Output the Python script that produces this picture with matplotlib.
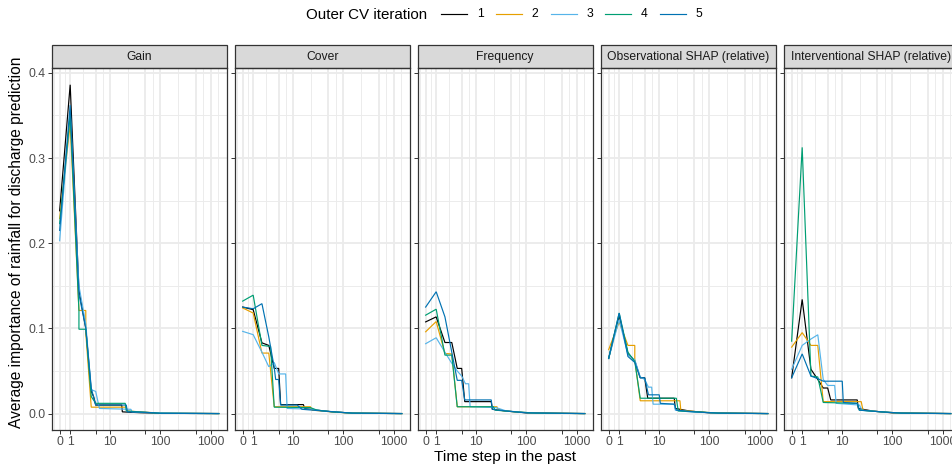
"""Average rainfall importance by time lag, per feature-importance method and outer CV iteration."""

import matplotlib

matplotlib.use("Agg")
import matplotlib.pyplot as plt
import numpy as np
from matplotlib.lines import Line2D
from matplotlib.patches import Rectangle
from matplotlib.ticker import FixedLocator


PANELS = ["Gain", "Cover", "Frequency", "Observational SHAP (relative)",
          "Interventional SHAP (relative)"]
ITERATIONS = ["1", "2", "3", "4", "5"]
COLORS = ["#000000", "#E69F00", "#56B4E9", "#009E73", "#0072B2"]

X_BREAKS = [0, 1, 5, 10, 50, 100, 500, 1000]
X_LABELS = ["0", "1", "", "10", "", "100", "", "1000"]
Y_BREAKS = [0.0, 0.1, 0.2, 0.3, 0.4]

# line vertices (lag, importance) per outer CV iteration 1..5
GAIN_LAGS = [
    [0, 1, 2, 3, 4, 4.5, 5, 17, 17.5, 40, 100, 1440],
    [0, 1, 2, 3, 3, 4, 21, 22, 40, 100, 1440],
    [0, 1, 2, 3, 4, 5, 6, 26, 27, 60, 1440],
    [0, 1, 2, 2, 3, 4, 5, 20, 21, 50, 100, 1440],
    [0, 1, 2, 3, 4, 5, 21, 22, 50, 100, 1440],
]
GAIN_VALUES = [
    [0.238, 0.386, 0.145, 0.100, 0.026, 0.020, 0.010, 0.010, 0.002, 0.001, 0.0003, 0.0],
    [0.229, 0.340, 0.121, 0.121, 0.095, 0.0075, 0.0075, 0.003, 0.002, 0.0005, 0.0],
    [0.203, 0.355, 0.150, 0.105, 0.028, 0.026, 0.006, 0.005, 0.002, 0.001, 0.0],
    [0.223, 0.350, 0.121, 0.099, 0.099, 0.020, 0.012, 0.012, 0.003, 0.0015, 0.0003, 0.0],
    [0.215, 0.362, 0.140, 0.100, 0.030, 0.010, 0.010, 0.002, 0.0015, 0.0003, 0.0],
]

COVER_LAGS = [
    [0, 1, 2, 3, 4, 5, 5.5, 16, 17, 30, 60, 150, 1440],
    [0, 1, 2, 3, 4, 22, 24, 60, 150, 1440],
    [0, 1, 2, 3, 4, 5, 7, 7.5, 25, 40, 150, 1440],
    [0, 1, 2, 3, 3.3, 4, 22, 30, 60, 150, 1440],
    [0, 1, 2, 3, 4, 4.3, 5, 5.5, 12, 15, 40, 150, 1440],
]
COVER_VALUES = [
    [0.125, 0.122, 0.083, 0.080, 0.053, 0.053, 0.0105, 0.0105, 0.006, 0.004, 0.002, 0.0005, 0.0],
    [0.124, 0.118, 0.071, 0.071, 0.008, 0.008, 0.004, 0.002, 0.0005, 0.0],
    [0.0965, 0.0926, 0.072, 0.055, 0.060, 0.0465, 0.0465, 0.006, 0.005, 0.003, 0.0005, 0.0],
    [0.132, 0.139, 0.080, 0.079, 0.079, 0.0075, 0.007, 0.004, 0.002, 0.0005, 0.0],
    [0.125, 0.123, 0.129, 0.090, 0.054, 0.040, 0.040, 0.010, 0.010, 0.005, 0.003, 0.0005, 0.0],
]

FREQ_LAGS = [
    [0, 1, 2, 3, 4, 5, 5.8, 20, 21, 40, 100, 1440],
    [0, 1, 2, 3, 4, 26, 27, 60, 150, 1440],
    [0, 1, 2, 3, 4, 5, 6, 7, 7.5, 25, 40, 150, 1440],
    [0, 1, 2, 3, 4, 22, 24, 60, 150, 1440],
    [0, 1, 2, 3, 4, 5, 5.8, 20, 21, 40, 100, 1440],
]
FREQ_VALUES = [
    [0.1076, 0.1135, 0.0834, 0.0834, 0.053, 0.053, 0.014, 0.014, 0.005, 0.003, 0.0008, 0.0],
    [0.096, 0.108, 0.0705, 0.070, 0.008, 0.008, 0.004, 0.002, 0.0005, 0.0],
    [0.082, 0.089, 0.072, 0.059, 0.050, 0.044, 0.035, 0.035, 0.008, 0.007, 0.003, 0.0005, 0.0],
    [0.1155, 0.1225, 0.0686, 0.0686, 0.008, 0.008, 0.004, 0.002, 0.0005, 0.0],
    [0.125, 0.143, 0.1135, 0.072, 0.039, 0.039, 0.016, 0.016, 0.005, 0.003, 0.0008, 0.0],
]

OBS_LAGS = [
    [0, 1, 2, 3, 4, 5, 5.8, 20, 21, 40, 100, 1440],
    [0, 1, 2, 3, 3, 4, 26, 27, 60, 150, 1440],
    [0, 1, 2, 3, 4, 5, 6, 7, 7.5, 20, 21, 40, 150, 1440],
    [0, 1, 2, 3, 4, 22, 24, 60, 150, 1440],
    [0, 1, 2, 3, 4, 5, 6, 10, 10.5, 20, 22, 50, 150, 1440],
]
OBS_VALUES = [
    [0.0647, 0.115, 0.0705, 0.062, 0.042, 0.042, 0.018, 0.018, 0.006, 0.003, 0.0008, 0.0],
    [0.075, 0.1076, 0.080, 0.080, 0.063, 0.015, 0.015, 0.004, 0.002, 0.0005, 0.0],
    [0.0647, 0.110, 0.069, 0.063, 0.043, 0.040, 0.031, 0.031, 0.011, 0.011, 0.004, 0.002, 0.0005, 0.0],
    [0.0647, 0.118, 0.072, 0.061, 0.018, 0.018, 0.003, 0.002, 0.0005, 0.0],
    [0.0647, 0.118, 0.067, 0.060, 0.042, 0.042, 0.022, 0.022, 0.012, 0.011, 0.004, 0.002, 0.0005, 0.0],
]

INT_LAGS = [
    [0, 1, 2, 3, 4, 5, 5.8, 20, 21, 40, 100, 1440],
    [0, 1, 2, 3, 4, 24, 26, 60, 150, 1440],
    [0, 1, 2, 3, 4, 5, 7, 7.5, 22, 25, 60, 150, 1440],
    [0, 1, 2, 3, 4, 20, 22, 60, 150, 1440],
    [0, 1, 2, 3, 4, 10, 10.5, 20, 22, 60, 150, 1440],
]
INT_VALUES = [
    [0.042, 0.134, 0.052, 0.040, 0.030, 0.030, 0.016, 0.016, 0.006, 0.003, 0.0008, 0.0],
    [0.078, 0.095, 0.080, 0.080, 0.014, 0.014, 0.004, 0.002, 0.0005, 0.0],
    [0.052, 0.080, 0.0875, 0.0925, 0.040, 0.033, 0.033, 0.012, 0.010, 0.004, 0.002, 0.0005, 0.0],
    [0.085, 0.3125, 0.044, 0.043, 0.013, 0.012, 0.004, 0.002, 0.0005, 0.0],
    [0.042, 0.070, 0.044, 0.041, 0.038, 0.038, 0.013, 0.012, 0.004, 0.002, 0.0005, 0.0],
]

PANEL_LAGS = [GAIN_LAGS, COVER_LAGS, FREQ_LAGS, OBS_LAGS, INT_LAGS]
PANEL_VALUES = [GAIN_VALUES, COVER_VALUES, FREQ_VALUES, OBS_VALUES, INT_VALUES]

W, H = 952, 469
GRID = "#EBEBEB"
DARK = "#333333"


def forward(x):
    # ggplot pseudo_log_trans(): asinh(x / 2)
    return np.arcsinh(np.asarray(x, dtype=float) / 2)


def inverse(u):
    return 2 * np.sinh(np.asarray(u, dtype=float))


def fx(px):
    return px / W


def fy(py):
    return 1 - py / H


def main() -> None:
    plt.rcParams["font.family"] = ["Liberation Sans", "DejaVu Sans"]
    fig = plt.figure(figsize=(W / 100, H / 100), dpi=100)

    all_lags = np.concatenate([np.ravel(l) for p in PANEL_LAGS for l in p])
    all_vals = np.concatenate([np.ravel(v) for p in PANEL_VALUES for v in p])
    umin, umax = forward(all_lags.min()), forward(all_lags.max())
    upad = 0.05 * (umax - umin)
    ypad = 0.05 * (all_vals.max() - all_vals.min())

    ubreaks = forward(X_BREAKS)
    steps = np.diff(ubreaks)
    uminor = np.concatenate([[ubreaks[0] - steps[0] / 2], ubreaks[:-1] + steps / 2,
                             [ubreaks[-1] + steps[-1] / 2]])

    panel_w, panel_top, panel_bottom = 175, 68.3, 430
    strip_h = 23.3 / (panel_bottom - panel_top)
    for i, title in enumerate(PANELS):
        left = 51.7 + 183 * i
        ax = fig.add_axes([fx(left), fy(panel_bottom), panel_w / W,
                           (panel_bottom - panel_top) / H])
        ax.set_xscale("function", functions=(forward, inverse))
        for lags, vals, color in zip(PANEL_LAGS[i], PANEL_VALUES[i], COLORS):
            ax.plot(lags, vals, color=color, lw=0.85, solid_joinstyle="miter")

        ax.set_xlim(inverse(umin - upad), inverse(umax + upad))
        ax.set_ylim(all_vals.min() - ypad, all_vals.max() + ypad)
        ax.xaxis.set_major_locator(FixedLocator(X_BREAKS))
        ax.set_xticklabels(X_LABELS)
        ax.xaxis.set_minor_locator(FixedLocator(inverse(uminor)))
        ax.yaxis.set_major_locator(FixedLocator(Y_BREAKS))
        ax.yaxis.set_minor_locator(FixedLocator(np.arange(-0.05, 0.5, 0.1)))
        ax.set_yticklabels([f"{v:.1f}" for v in Y_BREAKS])
        if i > 0:
            ax.tick_params(axis="y", labelleft=False)

        ax.set_axisbelow(True)
        ax.grid(which="major", color=GRID, lw=1.36)
        ax.grid(which="minor", color=GRID, lw=0.68)
        ax.tick_params(which="major", length=2.6, width=0.7, color=DARK, pad=2.0,
                       labelsize=8.8, labelcolor="#4D4D4D")
        ax.tick_params(which="minor", length=0)
        for spine in ax.spines.values():
            spine.set_color(DARK)
            spine.set_linewidth(0.9)

        ax.add_patch(Rectangle((0, 1), 1, strip_h, transform=ax.transAxes, clip_on=False,
                               facecolor="#D9D9D9", edgecolor=DARK, lw=0.9))
        ax.text(0.5, 1 + strip_h / 2, title, transform=ax.transAxes, ha="center",
                va="center", fontsize=8.7, color="#1A1A1A")

    fig.text(fx(17), fy(242), "Average importance of rainfall for discharge prediction",
             rotation=90, ha="center", va="center", fontsize=11.2)
    fig.text(fx(505), fy(457), "Time step in the past", ha="center", va="center",
             fontsize=11.1)

    # legend on top
    fig.text(fx(306), fy(15), "Outer CV iteration", ha="left", va="center", fontsize=10.9)
    for i, (label, color) in enumerate(zip(ITERATIONS, COLORS)):
        x0 = 441 + 54.8 * i
        fig.add_artist(Line2D([fx(x0), fx(x0 + 26)], [fy(14), fy(14)], color=color, lw=0.85,
                              transform=fig.transFigure))
        fig.text(fx(x0 + 39), fy(14), label, ha="center", va="center", fontsize=8.7)

    fig.savefig("out.png", dpi=100, facecolor="white")


if __name__ == "__main__":
    main()
